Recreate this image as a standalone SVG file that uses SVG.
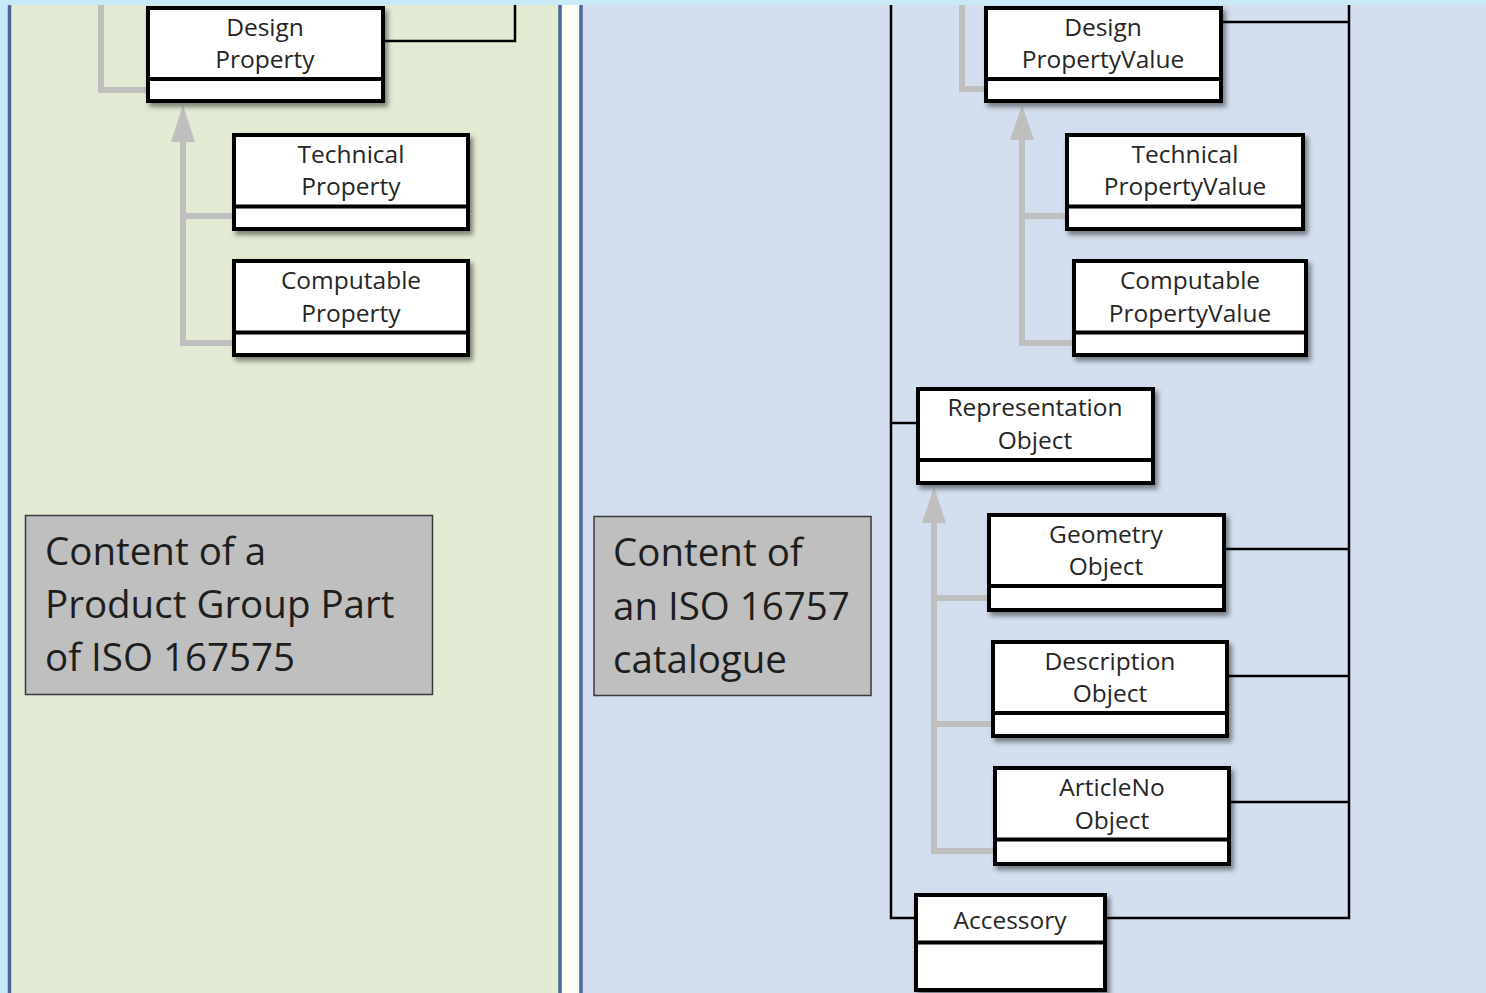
<svg xmlns="http://www.w3.org/2000/svg" width="1486" height="993" viewBox="0 0 1486 993">
  <defs>
    <filter id="sh" x="-10%" y="-10%" width="130%" height="140%">
      <feDropShadow dx="3" dy="4" stdDeviation="2.5" flood-color="#000" flood-opacity="0.45"/>
    </filter>
    <style>
      .box { fill: #fff; stroke: #000; stroke-width: 4; filter: url(#sh); }
      .sep { stroke: #000; stroke-width: 4; }
      .lbl { font-family: "Open Sans", "Liberation Sans", sans-serif; font-size: 24.5px; fill: #262626; text-anchor: middle; }
      .note { fill: #bfbfbf; stroke: #3a3a3a; stroke-width: 1.5; }
      .big { font-family: "Open Sans", "Liberation Sans", sans-serif; font-size: 38.5px; fill: #1e1e1e; }
      .assoc { fill: none; stroke: #000; stroke-width: 2.5; }
      .gen { fill: none; stroke: #bfbfbf; stroke-width: 6; }
      .genhead { fill: #bfbfbf; stroke: none; }
    </style>
  </defs>

  <!-- frame and panels -->
  <rect x="0" y="0" width="1486" height="993" fill="#c8e9f5"/>
  <rect x="10" y="5" width="550" height="988" fill="#e3ebd4"/>
  <rect x="562" y="5" width="18" height="988" fill="#fdfdf6"/>
  <rect x="582" y="5" width="904" height="988" fill="#d3deee"/>
  <g stroke="#4a6799" stroke-width="3.5">
    <line x1="9.5" y1="5" x2="9.5" y2="993"/>
    <line x1="560" y1="5" x2="560" y2="993"/>
    <line x1="581" y1="5" x2="581" y2="993"/>
  </g>

  <!-- connectors -->
  <g id="connectors">
    <!-- associations -->
    <path class="assoc" d="M383 41 H515 V5"/>
    <path class="assoc" d="M891 5 V918 H916"/>
    <path class="assoc" d="M891 423 H918"/>
    <path class="assoc" d="M1221 22 H1349"/>
    <path class="assoc" d="M1349 5 V918 H1105"/>
    <path class="assoc" d="M1224 549 H1349"/>
    <path class="assoc" d="M1227 676 H1349"/>
    <path class="assoc" d="M1229 802 H1349"/>
    <!-- generalizations -->
    <path class="gen" d="M101 5 V90 H148"/>
    <path class="gen" d="M183 138 V343 H234 M183 216 H234"/>
    <polygon class="genhead" points="183,105 171,142 195,142"/>
    <path class="gen" d="M962 5 V89 H986"/>
    <path class="gen" d="M1022 138 V343 H1074 M1022 216 H1067"/>
    <polygon class="genhead" points="1022,105 1010,140 1034,140"/>
    <path class="gen" d="M934 520 V851 H995 M934 598 H989 M934 724 H993"/>
    <polygon class="genhead" points="934,487 922,523 946,523"/>
  </g>

  <!-- classes -->
  <g id="design-property">
    <rect class="box" x="148" y="8" width="235" height="93"/>
    <line class="sep" x1="148" y1="79" x2="383" y2="79"/>
    <text class="lbl" x="265" y="36">Design</text>
    <text class="lbl" x="265" y="68">Property</text>
  </g>
  <g id="technical-property">
    <rect class="box" x="234" y="135" width="234" height="94"/>
    <line class="sep" x1="234" y1="206.5" x2="468" y2="206.5"/>
    <text class="lbl" x="351" y="162.5">Technical</text>
    <text class="lbl" x="351" y="195">Property</text>
  </g>
  <g id="computable-property">
    <rect class="box" x="234" y="261" width="234" height="94"/>
    <line class="sep" x1="234" y1="332.5" x2="468" y2="332.5"/>
    <text class="lbl" x="351" y="289">Computable</text>
    <text class="lbl" x="351" y="322">Property</text>
  </g>
  <g id="design-propertyvalue">
    <rect class="box" x="986" y="8" width="235" height="93"/>
    <line class="sep" x1="986" y1="79" x2="1221" y2="79"/>
    <text class="lbl" x="1103" y="36">Design</text>
    <text class="lbl" x="1103" y="68">PropertyValue</text>
  </g>
  <g id="technical-propertyvalue">
    <rect class="box" x="1067" y="135" width="236" height="94"/>
    <line class="sep" x1="1067" y1="206.5" x2="1303" y2="206.5"/>
    <text class="lbl" x="1185" y="162.5">Technical</text>
    <text class="lbl" x="1185" y="195">PropertyValue</text>
  </g>
  <g id="computable-propertyvalue">
    <rect class="box" x="1074" y="261" width="232" height="94"/>
    <line class="sep" x1="1074" y1="332.5" x2="1306" y2="332.5"/>
    <text class="lbl" x="1190" y="289">Computable</text>
    <text class="lbl" x="1190" y="322">PropertyValue</text>
  </g>
  <g id="representation-object">
    <rect class="box" x="918" y="389" width="235" height="94"/>
    <line class="sep" x1="918" y1="460" x2="1153" y2="460"/>
    <text class="lbl" x="1035" y="416">Representation</text>
    <text class="lbl" x="1035" y="449">Object</text>
  </g>
  <g id="geometry-object">
    <rect class="box" x="989" y="515" width="235" height="95"/>
    <line class="sep" x1="989" y1="586" x2="1224" y2="586"/>
    <text class="lbl" x="1106" y="543">Geometry</text>
    <text class="lbl" x="1106" y="575">Object</text>
  </g>
  <g id="description-object">
    <rect class="box" x="993" y="642" width="234" height="94"/>
    <line class="sep" x1="993" y1="713" x2="1227" y2="713"/>
    <text class="lbl" x="1110" y="669.5">Description</text>
    <text class="lbl" x="1110" y="702">Object</text>
  </g>
  <g id="articleno-object">
    <rect class="box" x="995" y="768" width="234" height="96"/>
    <line class="sep" x1="995" y1="839.5" x2="1229" y2="839.5"/>
    <text class="lbl" x="1112" y="796">ArticleNo</text>
    <text class="lbl" x="1112" y="829">Object</text>
  </g>
  <g id="accessory">
    <rect class="box" x="916" y="895" width="189" height="95"/>
    <line class="sep" x1="916" y1="942.5" x2="1105" y2="942.5"/>
    <text class="lbl" x="1010" y="929">Accessory</text>
  </g>

  <!-- notes -->
  <g id="note-product-group">
    <rect class="note" x="25.5" y="515.5" width="407" height="179"/>
    <text class="big" x="45" y="565">Content of a</text>
    <text class="big" x="45" y="618">Product Group Part</text>
    <text class="big" x="45" y="671">of ISO 167575</text>
  </g>
  <g id="note-catalogue">
    <rect class="note" x="594" y="516.5" width="277" height="179"/>
    <text class="big" x="613" y="566">Content of</text>
    <text class="big" x="613" y="620">an ISO 16757</text>
    <text class="big" x="613" y="673">catalogue</text>
  </g>
</svg>
